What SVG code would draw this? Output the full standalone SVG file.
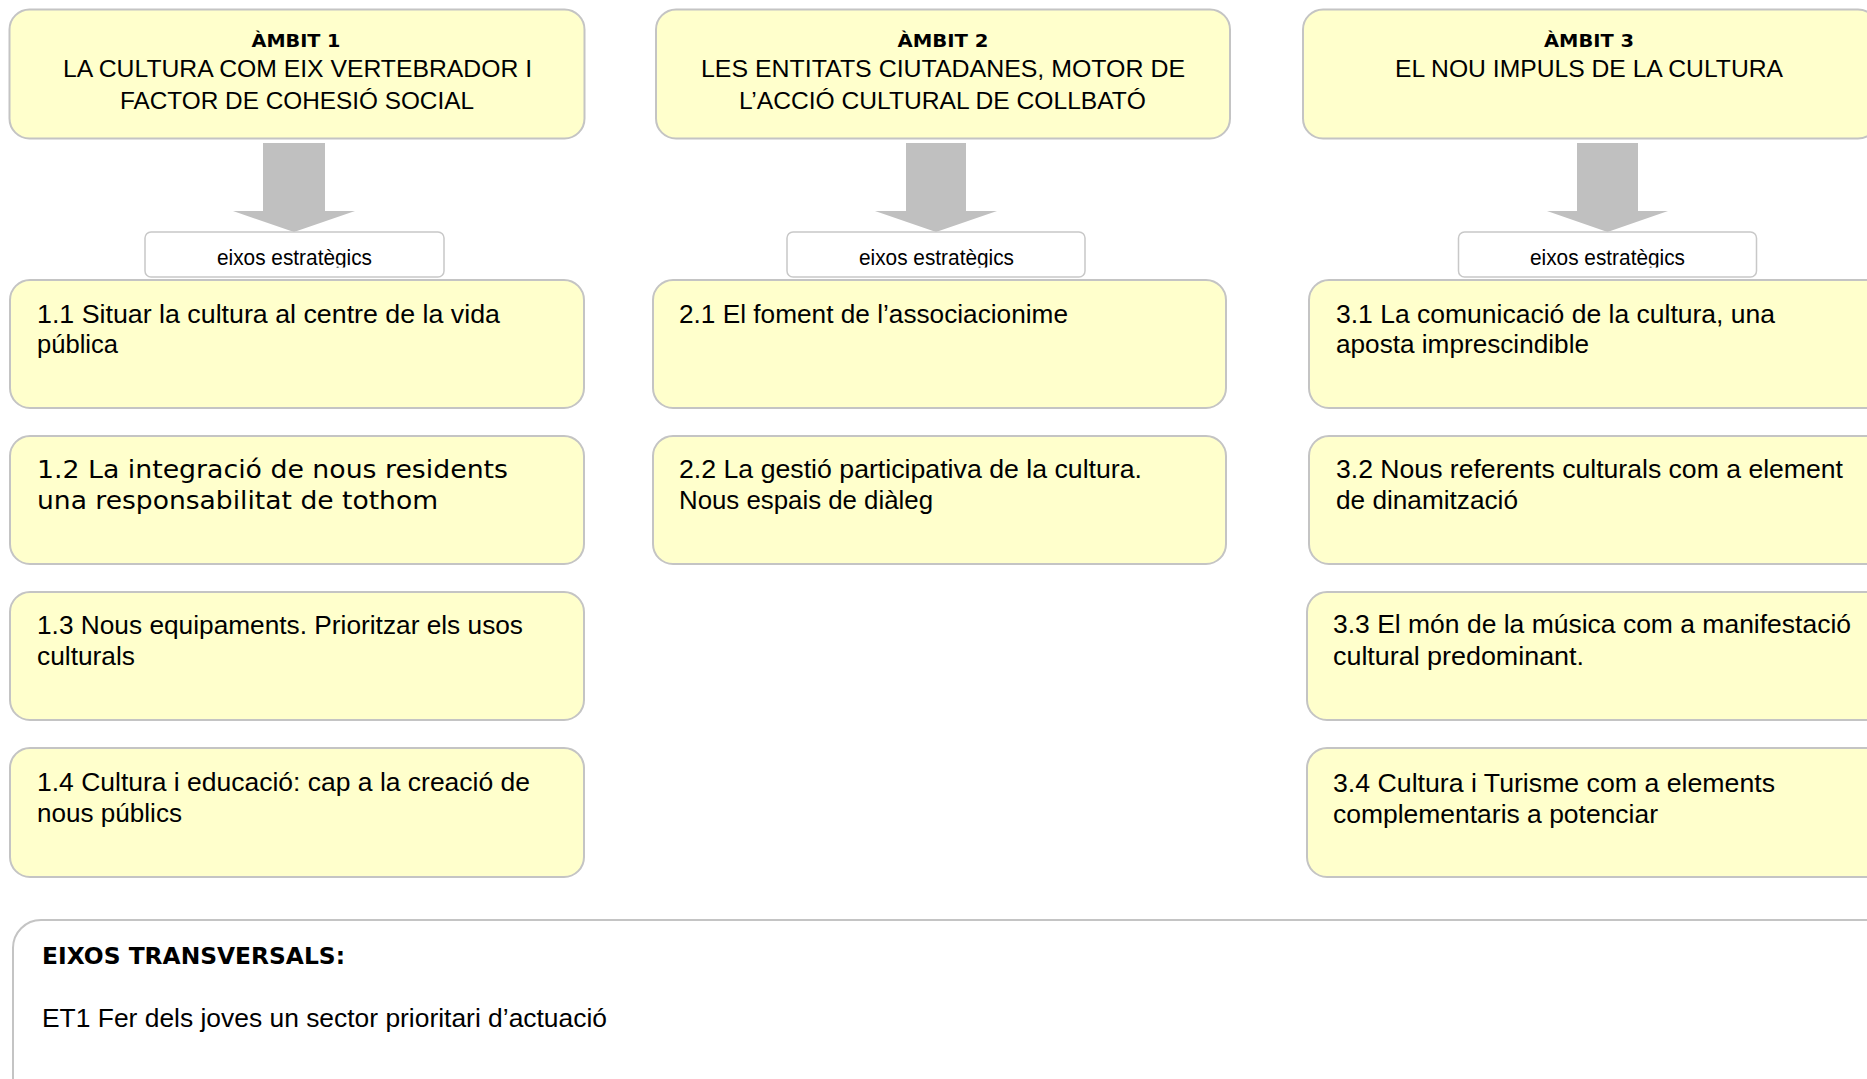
<svg xmlns="http://www.w3.org/2000/svg" width="1867" height="1079" viewBox="0 0 1867 1079">
<style>
.box{fill:#ffffcc;stroke:#c4c4c4;stroke-width:2}
.lbl{fill:#ffffff;stroke:#c8c8c8;stroke-width:1.5}
.arr{fill:#c0c0c0}
.hd{font-family:"DejaVu Sans",Verdana,sans-serif;font-weight:bold;font-size:17px;fill:#000;text-anchor:middle}
.tt{font-family:"Liberation Sans",Arial,sans-serif;font-size:24px;fill:#000;text-anchor:middle}
.it{font-family:"Liberation Sans",Arial,sans-serif;font-size:26px;fill:#000}
.itv{font-family:"DejaVu Sans",Verdana,sans-serif;font-size:24px;fill:#000}
.ex{font-family:"Liberation Sans",Arial,sans-serif;font-size:22px;fill:#000;text-anchor:middle}
.bt{font-family:"DejaVu Sans",Verdana,sans-serif;font-weight:bold;font-size:23px;fill:#000}
</style>
<defs>
<clipPath id="c1"><rect x="145" y="232" width="299" height="35.5"/></clipPath>
<clipPath id="c2"><rect x="787" y="232" width="298" height="35.5"/></clipPath>
<clipPath id="c3"><rect x="1458" y="232" width="299" height="35.5"/></clipPath>
</defs>
<rect width="1867" height="1079" fill="#ffffff"/>

<g id="ambit1">
<rect class="box" x="9.5" y="9.5" width="575" height="129" rx="20"/>
<text class="hd" x="296" y="47" textLength="89" lengthAdjust="spacingAndGlyphs">ÀMBIT 1</text>
<text class="tt" x="297.5" y="77" textLength="469" lengthAdjust="spacingAndGlyphs">LA CULTURA COM EIX VERTEBRADOR I</text>
<text class="tt" x="297" y="109" textLength="354" lengthAdjust="spacingAndGlyphs">FACTOR DE COHESIÓ SOCIAL</text>
</g>
<g id="ambit2">
<rect class="box" x="656" y="9.5" width="574" height="129" rx="20"/>
<text class="hd" x="943" y="47" textLength="91" lengthAdjust="spacingAndGlyphs">ÀMBIT 2</text>
<text class="tt" x="943" y="77" textLength="484" lengthAdjust="spacingAndGlyphs">LES ENTITATS CIUTADANES, MOTOR DE</text>
<text class="tt" x="942.5" y="109" textLength="407" lengthAdjust="spacingAndGlyphs">L’ACCIÓ CULTURAL DE COLLBATÓ</text>
</g>
<g id="ambit3">
<rect class="box" x="1303" y="9.5" width="575" height="129" rx="20"/>
<text class="hd" x="1589" y="47" textLength="90" lengthAdjust="spacingAndGlyphs">ÀMBIT 3</text>
<text class="tt" x="1589" y="77" textLength="388" lengthAdjust="spacingAndGlyphs">EL NOU IMPULS DE LA CULTURA</text>
</g>

<g id="connectors">
<polygon class="arr" points="263,143 325,143 325,211 355,211 294,232 233,211 263,211"/>
<polygon class="arr" points="906,143 966,143 966,211 997,211 936,232 875,211 906,211"/>
<polygon class="arr" points="1577,143 1638,143 1638,211 1668,211 1607.5,232 1547,211 1577,211"/>
</g>

<g id="eixos1">
<rect class="lbl" x="145" y="232" width="299" height="45" rx="6"/>
<text class="ex" x="294.5" y="265" textLength="155" lengthAdjust="spacingAndGlyphs" clip-path="url(#c1)">eixos estratègics</text>
</g>
<g id="eixos2">
<rect class="lbl" x="787" y="232" width="298" height="45" rx="6"/>
<text class="ex" x="936.5" y="265" textLength="155" lengthAdjust="spacingAndGlyphs" clip-path="url(#c2)">eixos estratègics</text>
</g>
<g id="eixos3">
<rect class="lbl" x="1458.5" y="232" width="298" height="45" rx="6"/>
<text class="ex" x="1607.5" y="265" textLength="155" lengthAdjust="spacingAndGlyphs" clip-path="url(#c3)">eixos estratègics</text>
</g>

<g id="e11">
<rect class="box" x="10" y="280" width="574" height="128" rx="20"/>
<text class="it" x="37" y="323" textLength="463" lengthAdjust="spacingAndGlyphs">1.1 Situar la cultura al centre de la vida</text>
<text class="it" x="37" y="353" textLength="81" lengthAdjust="spacingAndGlyphs">pública</text>
</g>
<g id="e12">
<rect class="box" x="10" y="436" width="574" height="128" rx="20"/>
<text class="itv" x="37" y="478" textLength="471" lengthAdjust="spacingAndGlyphs">1.2 La integració de nous residents</text>
<text class="itv" x="37" y="509" textLength="401" lengthAdjust="spacingAndGlyphs">una responsabilitat de tothom</text>
</g>
<g id="e13">
<rect class="box" x="10" y="592" width="574" height="128" rx="20"/>
<text class="it" x="37" y="634" textLength="486" lengthAdjust="spacingAndGlyphs">1.3 Nous equipaments. Prioritzar els usos</text>
<text class="it" x="37" y="665" textLength="98" lengthAdjust="spacingAndGlyphs">culturals</text>
</g>
<g id="e14">
<rect class="box" x="10" y="748" width="574" height="129" rx="20"/>
<text class="it" x="37" y="791" textLength="493" lengthAdjust="spacingAndGlyphs">1.4 Cultura i educació: cap a la creació de</text>
<text class="it" x="37" y="822" textLength="145" lengthAdjust="spacingAndGlyphs">nous públics</text>
</g>

<g id="e21">
<rect class="box" x="653" y="280" width="573" height="128" rx="20"/>
<text class="it" x="679" y="323" textLength="389" lengthAdjust="spacingAndGlyphs">2.1 El foment de l’associacionime</text>
</g>
<g id="e22">
<rect class="box" x="653" y="436" width="573" height="128" rx="20"/>
<text class="it" x="679" y="478" textLength="463" lengthAdjust="spacingAndGlyphs">2.2 La gestió participativa de la cultura.</text>
<text class="it" x="679" y="509" textLength="254" lengthAdjust="spacingAndGlyphs">Nous espais de diàleg</text>
</g>

<g id="e31">
<rect class="box" x="1309" y="280" width="580" height="128" rx="20"/>
<text class="it" x="1336" y="323" textLength="439" lengthAdjust="spacingAndGlyphs">3.1 La comunicació de la cultura, una</text>
<text class="it" x="1336" y="353" textLength="253" lengthAdjust="spacingAndGlyphs">aposta imprescindible</text>
</g>
<g id="e32">
<rect class="box" x="1309" y="436" width="580" height="128" rx="20"/>
<text class="it" x="1336" y="478" textLength="507" lengthAdjust="spacingAndGlyphs">3.2 Nous referents culturals com a element</text>
<text class="it" x="1336" y="509" textLength="182" lengthAdjust="spacingAndGlyphs">de dinamització</text>
</g>
<g id="e33">
<rect class="box" x="1307" y="592" width="582" height="128" rx="20"/>
<text class="it" x="1333" y="633" textLength="518" lengthAdjust="spacingAndGlyphs">3.3 El món de la música com a manifestació</text>
<text class="it" x="1333" y="665" textLength="251" lengthAdjust="spacingAndGlyphs">cultural predominant.</text>
</g>
<g id="e34">
<rect class="box" x="1307" y="748" width="582" height="129" rx="20"/>
<text class="it" x="1333" y="792" textLength="442" lengthAdjust="spacingAndGlyphs">3.4 Cultura i Turisme com a elements</text>
<text class="it" x="1333" y="823" textLength="325" lengthAdjust="spacingAndGlyphs">complementaris a potenciar</text>
</g>

<g id="transversals">
<rect x="13" y="920" width="1900" height="220" rx="28" fill="#ffffff" stroke="#c4c4c4" stroke-width="2"/>
<text class="bt" x="42" y="964" textLength="303" lengthAdjust="spacingAndGlyphs">EIXOS TRANSVERSALS:</text>
<text class="it" x="42" y="1027" textLength="565" lengthAdjust="spacingAndGlyphs">ET1 Fer dels joves un sector prioritari d’actuació</text>
</g>
</svg>
